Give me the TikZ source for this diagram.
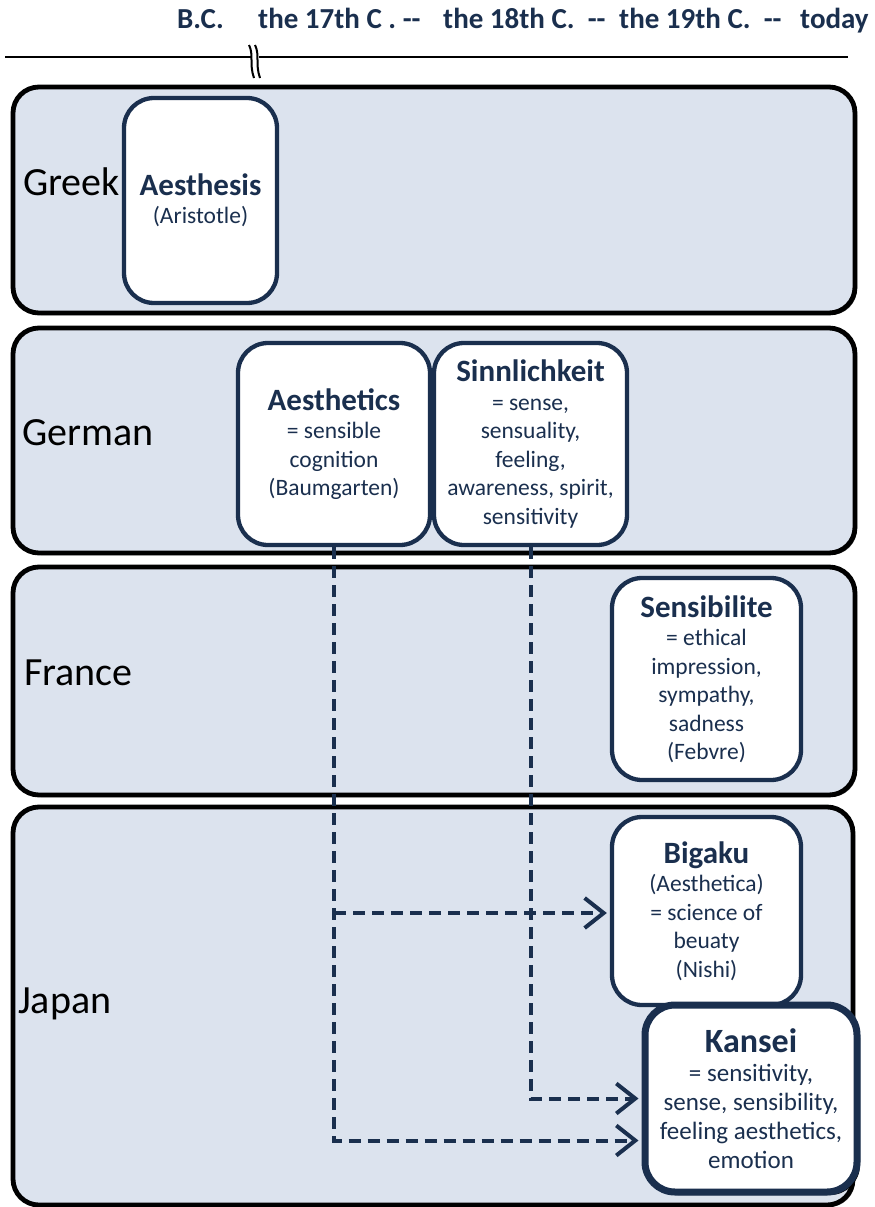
\documentclass[tikz,border=0pt]{standalone}
\usepackage{fontspec}
\setmainfont{Carlito}
\usetikzlibrary{arrows.meta,shadows}

\definecolor{navy}{HTML}{1A2F4E}
\definecolor{panelblue}{HTML}{DCE3EE}

\pgfdeclarelayer{panels}
\pgfdeclarelayer{flows}
\pgfsetlayers{panels,flows,main}

\tikzset{
  panel/.style={draw=black,line width=4.8pt,fill=panelblue,rounded corners=26pt,
    drop shadow={shadow xshift=2pt,shadow yshift=-2pt,fill=black,opacity=.6}},
  country/.style={anchor=base west,inner sep=0pt,font=\fontsize{40}{42}\selectfont},
  era/.style={anchor=base west,inner sep=0pt,text=navy,font=\fontsize{29}{31}\selectfont\bfseries},
  term/.style={draw=navy,line width=4.3pt,fill=white,rounded corners=30pt,text=navy,
    align=center,inner sep=4pt,font=\fontsize{23.5}{28.5}\selectfont},
  kanseibox/.style={term,line width=7pt,font=\fontsize{25}{29}\selectfont,
    drop shadow={shadow xshift=3pt,shadow yshift=-3pt,fill=black,opacity=1}},
  flow/.style={draw=navy,line width=4pt,dash pattern=on 12pt off 7pt,shorten >=3pt,
    -{Straight Barb[length=19pt,width=30pt]}}
}
\newcommand\termtitle[1]{{\fontsize{31}{34}\selectfont\bfseries #1}}

\begin{document}
\begin{tikzpicture}[x=1pt,y=-1pt]
\useasboundingbox (0,0) rectangle (875,1207);

% time axis
\foreach \x/\txt/\nm in {177/B.C./bc, 258/the 17th C . -{}-/c17, 443/the 18th C.~ -{}-/c18,
    619/the 19th C.~ -{}-/c19, 800/today/today}
  \node[era] (era\nm) at (\x,29) {\txt};
\draw[line width=2.5pt] (5,57) -- (848,57);
\fill[white] (251,52) rectangle (259,62);
\draw[line width=2pt] (249,45) .. controls (254,55) and (249,64) .. (254,78);
\draw[line width=2pt] (255,45) .. controls (260,55) and (255,64) .. (260,78);

% country panels
\begin{pgfonlayer}{panels}
\draw[panel] (13,87) rectangle (855,313);
\draw[panel] (13,328) rectangle (855,553);
\draw[panel] (13,567) rectangle (855,795);
\draw[panel] (13,807) rectangle (853,1205);
\end{pgfonlayer}

\node[country] (greek) at (23,195) {Greek};
\node[country] (german) at (22,445) {German};
\node[country] (france) at (24,685) {France};
\node[country] (japan) at (18,1013) {Japan};

% terms
\node[term,minimum width=153pt,minimum height=205pt] (aesthesis) at (200.5,200.5)
  {\termtitle{Aesthesis}\\(Aristotle)};
\node[term,minimum width=192pt,minimum height=202pt] (aesthetics) at (334,444)
  {\termtitle{Aesthetics}\\= sensible\\cognition\\(Baumgarten)};
\node[term,minimum width=193pt,minimum height=202pt] (sinnlich) at (530.5,444)
  {\termtitle{Sinnlichkeit}\\= sense,\\sensuality,\\feeling,\\awareness, spirit,\\sensitivity};
\node[term,minimum width=189pt,minimum height=202pt] (sensib) at (706.5,679)
  {\termtitle{Sensibilite}\\= ethical\\impression,\\sympathy,\\sadness\\(Febvre)};
\node[term,minimum width=189pt,minimum height=188pt] (bigaku) at (706.5,911)
  {\termtitle{Bigaku}\\(Aesthetica)\\= science of\\beuaty\\(Nishi)};
\node[kanseibox,minimum width=212pt,minimum height=187pt] (kansei) at (751,1098.5)
  {{\fontsize{34}{36}\selectfont\bfseries Kansei}\\= sensitivity,\\sense, sensibility,\\feeling aesthetics,\\emotion};

% paths into Japan
\begin{pgfonlayer}{flows}
\draw[flow] (aesthetics.south) |- ([yshift=-42pt]kansei.west);
\draw[flow] (sinnlich.south) |- (kansei.west);
\draw[flow] (aesthetics.south |- 0,913) -- (bigaku.west |- 0,913);
\end{pgfonlayer}
\end{tikzpicture}
\end{document}
